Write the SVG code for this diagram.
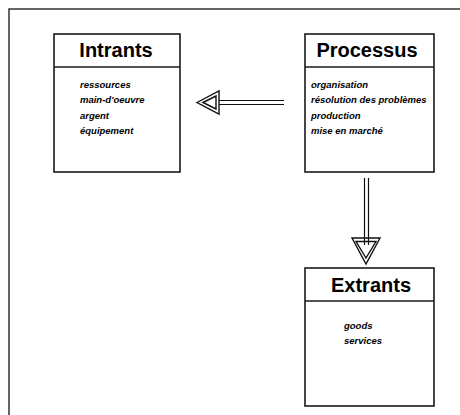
<svg xmlns="http://www.w3.org/2000/svg" width="460" height="415" viewBox="0 0 460 415">
<style>
.box{fill:#fff;stroke:#1a1a1a;stroke-width:1.6}
.div{stroke:#1a1a1a;stroke-width:1.4}
.title{font-family:"Liberation Sans",Arial,sans-serif;font-weight:bold;font-size:20px;fill:#000;text-anchor:middle}
.item{font-family:"Liberation Sans",Arial,sans-serif;font-weight:bold;font-style:italic;font-size:9.5px;fill:#000}
.ln{stroke:#111;stroke-width:1.2;fill:none}
.tri{fill:#fff;stroke:#111;stroke-width:1.4}
</style>
<rect width="460" height="415" fill="#fff"/>
<path d="M9,415 V9 H460" fill="none" stroke="#333" stroke-width="1.5"/>
<g id="connectors">
<g id="processus-intrants">
<line class="ln" x1="284" y1="100.5" x2="217" y2="100.5"/>
<line class="ln" x1="284" y1="104.5" x2="217" y2="104.5"/>
<polygon class="tri" points="197,102.5 219,91 219,114"/>
<polygon class="tri" points="203,102.5 216,96 216,109"/>
</g>
<g id="processus-extrants">
<polygon class="tri" points="352,238 380,238 366,264"/>
<polygon class="tri" points="356,241.5 376,241.5 366,258"/>
<line class="ln" x1="364.5" y1="178" x2="364.5" y2="245"/>
<line class="ln" x1="368.5" y1="178" x2="368.5" y2="245"/>
</g>
</g>
<g id="intrants">
<rect class="box" x="54" y="34" width="126" height="138"/>
<line class="div" x1="54" y1="67" x2="180" y2="67"/>
<text class="title" x="116" y="57">Intrants</text>
<text class="item" x="80" y="88">ressources</text>
<text class="item" x="80" y="103.3">main-d'oeuvre</text>
<text class="item" x="80" y="118.6">argent</text>
<text class="item" x="80" y="134">équipement</text>
</g>
<g id="processus">
<rect class="box" x="305" y="34" width="129" height="138"/>
<line class="div" x1="305" y1="67" x2="434" y2="67"/>
<text class="title" x="367" y="57">Processus</text>
<text class="item" x="311" y="88">organisation</text>
<text class="item" x="311" y="103.3">résolution des problèmes</text>
<text class="item" x="311" y="118.6">production</text>
<text class="item" x="311" y="134">mise en marché</text>
</g>
<g id="extrants">
<rect class="box" x="305" y="268" width="129" height="138"/>
<line class="div" x1="305" y1="301" x2="434" y2="301"/>
<text class="title" x="371" y="292">Extrants</text>
<text class="item" x="344" y="328.5">goods</text>
<text class="item" x="344" y="343.8">services</text>
</g>
</svg>
